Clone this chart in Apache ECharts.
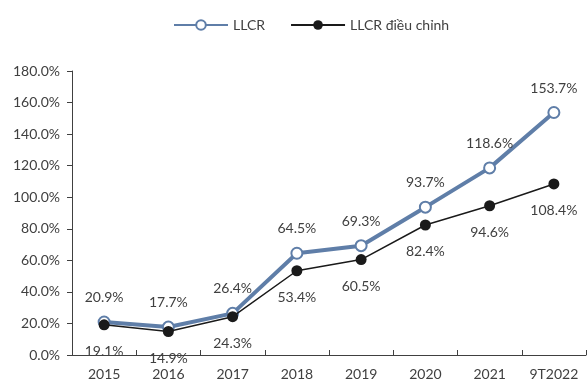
<!DOCTYPE html>
<html>
<head>
<meta charset="utf-8">
<script src="https://cdn.jsdelivr.net/npm/echarts@6/dist/echarts.min.js"></script>
<style>
  html, body { margin: 0; padding: 0; background: #fff; }
  #chart { width: 587px; height: 384px; }
</style>
</head>
<body>
<div id="chart"></div>
<script>
// Categories and values (%)
const years = ['2015', '2016', '2017', '2018', '2019', '2020', '2021', '9T2022'];
const llcr = [20.9, 17.7, 26.4, 64.5, 69.3, 93.7, 118.6, 153.7];
const llcrAdjusted = [19.1, 14.9, 24.3, 53.4, 60.5, 82.4, 94.6, 108.4];
const yTicks = [0, 20, 40, 60, 80, 100, 120, 140, 160, 180];

const FONT = 'Lato';
const TEXT = '#404040';
const AXIS = '#404040';

const chart = echarts.init(document.getElementById('chart'), null, { renderer: 'canvas' });

chart.setOption({
  animation: false,
  textStyle: { fontFamily: FONT },
  legend: {
    top: 13,
    left: 168,
    itemGap: 25,
    itemWidth: 54,
    itemHeight: 12,
    textStyle: { fontFamily: FONT, fontSize: 14, color: TEXT },
    data: ['LLCR', 'LLCR điều chỉnh']
  },
  grid: { left: 72, right: 1, top: 71, bottom: 29, containLabel: false },
  xAxis: {
    type: 'category',
    data: years,
    boundaryGap: true,
    axisLine: { lineStyle: { color: AXIS, width: 1 } },
    axisTick: { show: true, inside: true, length: 5, lineStyle: { color: AXIS } },
    axisLabel: { fontFamily: FONT, fontSize: 14, color: TEXT, margin: 12 }
  },
  yAxis: {
    type: 'value',
    min: yTicks[0],
    max: yTicks[yTicks.length - 1],
    interval: 20,
    axisLine: { show: true, lineStyle: { color: AXIS, width: 1 } },
    axisTick: { show: true, length: 5, lineStyle: { color: AXIS } },
    splitLine: { show: false },
    axisLabel: {
      fontFamily: FONT, fontSize: 14, color: TEXT, margin: 12,
      formatter: v => v.toFixed(1) + '%'
    }
  },
  series: [
    {
      name: 'LLCR',
      type: 'line',
      data: llcr,
      symbol: 'emptyCircle',
      symbolSize: 11,
      z: 2,
      lineStyle: { color: '#5f7ea8', width: 4 },
      itemStyle: { color: '#5f7ea8', borderColor: '#5f7ea8', borderWidth: 3 },
      label: {
        show: true, position: 'top', distance: 11,
        fontFamily: FONT, fontSize: 14, color: TEXT,
        formatter: p => p.value.toFixed(1) + '%'
      }
    },
    {
      name: 'LLCR điều chỉnh',
      type: 'line',
      data: llcrAdjusted,
      symbol: 'circle',
      symbolSize: 11,
      z: 3,
      lineStyle: { color: '#1a1a1a', width: 1.5 },
      itemStyle: { color: '#1a1a1a' },
      label: {
        show: true, position: 'bottom', distance: 14,
        fontFamily: FONT, fontSize: 14, color: TEXT,
        formatter: p => p.value.toFixed(1) + '%'
      }
    }
  ]
});
</script>
</body>
</html>
